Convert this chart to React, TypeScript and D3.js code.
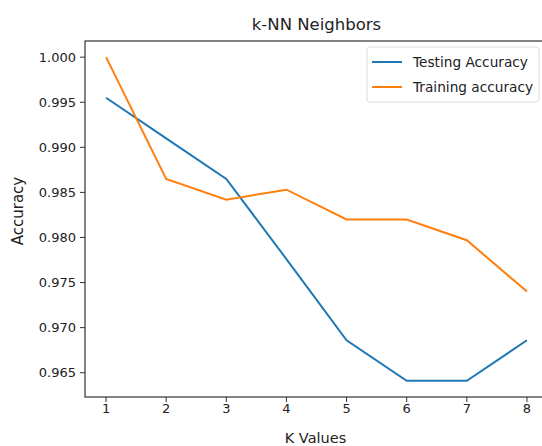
import * as d3 from "d3";

const kValues = [1, 2, 3, 4, 5, 6, 7, 8];
const testingAccuracy = [0.9955, 0.991, 0.9865, 0.9776, 0.9686, 0.9641, 0.9641, 0.9686];
const trainingAccuracy = [1.0, 0.9865, 0.9842, 0.9853, 0.982, 0.982, 0.9797, 0.974];
const yTicks = [0.965, 0.97, 0.975, 0.98, 0.985, 0.99, 0.995, 1.0];

const series = [
  { name: "Testing Accuracy", values: testingAccuracy, color: "#1f77b4" },
  { name: "Training accuracy", values: trainingAccuracy, color: "#ff7f0e" },
];

const W = 542;
const H = 446;
const font = "DejaVu Sans, sans-serif";

export default function App() {
  // matplotlib style: 5% padding around the data range
  const allY = [...testingAccuracy, ...trainingAccuracy];
  const yMin = d3.min(allY)!;
  const yMax = d3.max(allY)!;
  const yPad = (yMax - yMin) * 0.05;
  const xPad = (d3.max(kValues)! - d3.min(kValues)!) * 0.05;

  const left = 85;
  const top = 41;
  const right = 548;
  const bottom = 397;

  const x = d3.scaleLinear()
    .domain([d3.min(kValues)! - xPad, d3.max(kValues)! + xPad])
    .range([left, right]);
  const y = d3.scaleLinear()
    .domain([yMin - yPad, yMax + yPad])
    .range([bottom, top]);

  const line = d3.line<number>()
    .x((_, i) => x(kValues[i]))
    .y((d) => y(d));

  const textColor = "#222";

  return (
    <svg
      width={W}
      height={H}
      style={{ position: "fixed", left: 0, top: 0, background: "#fff" }}
      fontFamily={font}
    >
      <rect x={0} y={0} width={W} height={H} fill="#fff" />
      <text x={(left + right) / 2} y={30} textAnchor="middle" fontSize={16.5} fill={textColor}>
        k-NN Neighbors
      </text>

      {series.map((s) => (
        <path key={s.name} d={line(s.values) ?? ""} fill="none" stroke={s.color} strokeWidth={2} />
      ))}

      {/* frame */}
      <rect x={left} y={top} width={right - left} height={bottom - top} fill="none" stroke="#333" strokeWidth={1.2} />

      {/* y axis */}
      {yTicks.map((t) => (
        <g key={t}>
          <line x1={left - 5} x2={left} y1={y(t)} y2={y(t)} stroke="#333" strokeWidth={1} />
          <text x={left - 9} y={y(t)} dy="0.35em" textAnchor="end" fontSize={13} fill={textColor}>
            {d3.format(".3f")(t)}
          </text>
        </g>
      ))}
      <text
        transform={`translate(23,${(top + bottom) / 2 - 8}) rotate(-90)`}
        textAnchor="middle"
        fontSize={15}
        fill={textColor}
      >
        Accuracy
      </text>

      {/* x axis */}
      {kValues.map((k) => (
        <g key={k}>
          <line x1={x(k)} x2={x(k)} y1={bottom} y2={bottom + 5} stroke="#333" strokeWidth={1} />
          <text x={x(k)} y={bottom + 16} textAnchor="middle" fontSize={13} fill={textColor}>
            {k}
          </text>
        </g>
      ))}
      <text x={(left + right) / 2 - 1} y={443} textAnchor="middle" fontSize={14.5} fill={textColor}>
        K Values
      </text>

      {/* legend */}
      <rect x={367} y={47} width={172} height={55} rx={3} fill="#fff" stroke="#ddd" strokeWidth={1} />
      {series.map((s, i) => (
        <g key={s.name} transform={`translate(0,${62 + i * 25})`}>
          <line x1={372} x2={402} y1={0} y2={0} stroke={s.color} strokeWidth={2} />
          <text x={413} y={0} dy="0.35em" fontSize={13.7} fill={textColor}>
            {s.name}
          </text>
        </g>
      ))}
    </svg>
  );
}
